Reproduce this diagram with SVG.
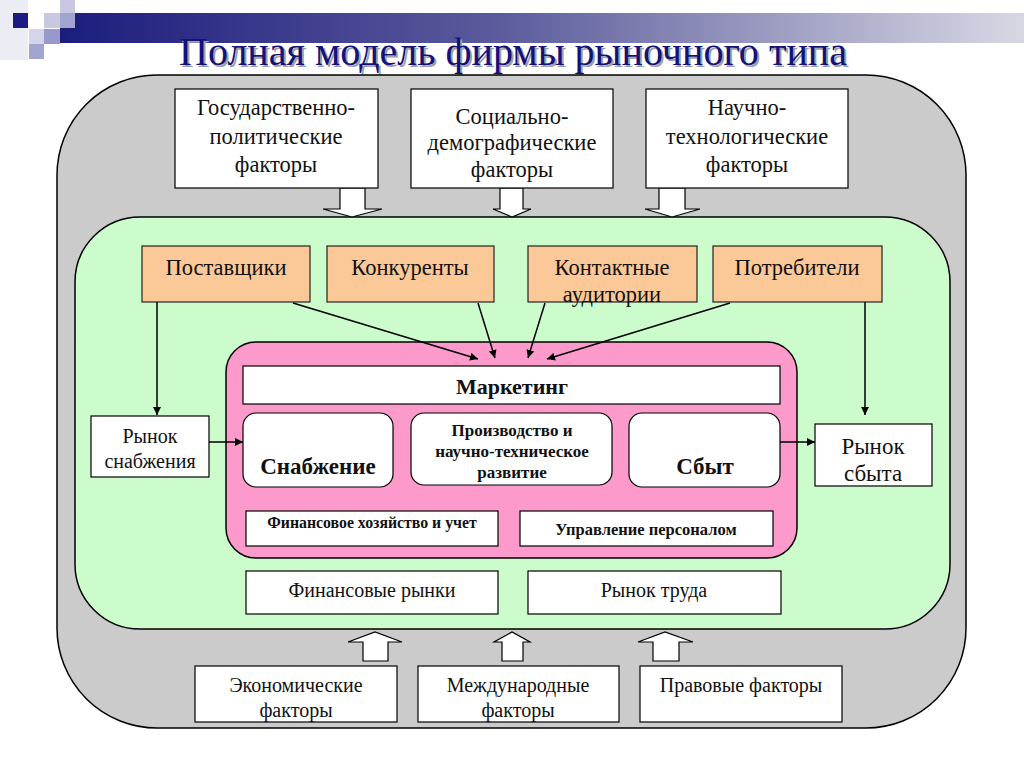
<svg xmlns="http://www.w3.org/2000/svg" width="1024" height="767" viewBox="0 0 1024 767">
<defs>
<linearGradient id="bar" x1="0" y1="0" x2="1" y2="0">
<stop offset="0" stop-color="#1c1c7e"/>
<stop offset="0.45" stop-color="#5a5a9c"/>
<stop offset="1" stop-color="#d8d8e4"/>
</linearGradient>
<marker id="ah" viewBox="0 0 10 10" refX="10" refY="5" markerWidth="8" markerHeight="8" markerUnits="userSpaceOnUse" orient="auto">
<path d="M0,0 L10,5 L0,10 z" fill="#000"/>
</marker>
<style>
.box{fill:#fff;stroke:#000;stroke-width:1.2}
.org{fill:#fbc898;stroke:#222;stroke-width:1.2}
.rbox{fill:#fff;stroke:#000;stroke-width:1.2}
.t{font-size:22.5px;fill:#111;text-anchor:middle}
.s{font-size:20px;fill:#111;text-anchor:middle}
.tb{font-weight:bold;fill:#111;text-anchor:middle}
.conn line{stroke:#000;stroke-width:1.5;marker-end:url(#ah)}
.barrow{fill:#fff;stroke:#000;stroke-width:1.2}
</style>
</defs>
<rect width="1024" height="767" fill="#fff"/>
<g font-family="Liberation Serif, Times New Roman, serif">
<!-- header decoration -->
<g id="header">
<rect x="60" y="13" width="964" height="30" fill="url(#bar)"/>
<rect x="0" y="0" width="28" height="60" fill="#ececf4"/>
<rect x="13" y="13" width="15" height="15" fill="#1a1a80"/>
<rect x="44" y="13" width="16" height="15" fill="#c8c8e2"/>
<rect x="60" y="0" width="15" height="13" fill="#c8c8e2"/>
<rect x="60" y="13" width="15" height="15" fill="#a4a4d0"/>
<rect x="29" y="29" width="15" height="15" fill="#d4d4ea"/>
<rect x="44" y="29" width="16" height="15" fill="#9898cc"/>
<rect x="29" y="44" width="15" height="15" fill="#a4a4d0"/>
<text x="515" y="67" font-size="39" fill="#a0a0a8" text-anchor="middle" textLength="668" lengthAdjust="spacingAndGlyphs">Полная модель фирмы рыночного типа</text>
<text x="513" y="65" font-size="39" fill="#12127a" text-anchor="middle" textLength="668" lengthAdjust="spacingAndGlyphs">Полная модель фирмы рыночного типа</text>
</g>
<!-- containers -->
<g id="environment">
<rect x="57" y="75" width="909" height="653" rx="100" ry="100" fill="#cbcbcb" stroke="#000" stroke-width="1.5"/>
</g>
<g id="microenvironment">
<rect x="75" y="217" width="875" height="412" rx="65" ry="65" fill="#ccfccc" stroke="#000" stroke-width="1.5"/>
</g>
<g id="firm">
<rect x="226" y="342" width="571" height="216" rx="30" ry="30" fill="#fb9acb" stroke="#000" stroke-width="1.5"/>
</g>
<!-- block arrows -->
<g id="block-arrows">
<path class="barrow" d="M340,188 L365,188 L365,209 L382,209 L352,217 L323,209 L340,209 Z"/>
<path class="barrow" d="M500,188 L523,188 L523,209 L531,209 L512,217 L493,209 L500,209 Z"/>
<path class="barrow" d="M659,188 L685,188 L685,209 L700,209 L672,217 L645,209 L659,209 Z"/>
<path class="barrow" d="M363,661 L388,661 L388,642 L402,642 L375,632 L348,642 L363,642 Z"/>
<path class="barrow" d="M502,661 L523,661 L523,642 L530,642 L512,632 L494,642 L502,642 Z"/>
<path class="barrow" d="M653,661 L679,661 L679,642 L693,642 L665,632 L638,642 L653,642 Z"/>
</g>
<!-- top factor boxes -->
<g id="gos">
<rect class="box" x="175" y="89" width="203" height="99"/>
<text class="t" x="276" y="115">Государственно-</text>
<text class="t" x="276" y="144">политические</text>
<text class="t" x="276" y="172">факторы</text>
</g>
<g id="soc">
<rect class="box" x="411" y="89" width="202" height="99"/>
<text class="t" x="512" y="124">Социально-</text>
<text class="t" x="512" y="150">демографические</text>
<text class="t" x="512" y="177">факторы</text>
</g>
<g id="nauch">
<rect class="box" x="646" y="89" width="202" height="99"/>
<text class="t" x="747" y="115">Научно-</text>
<text class="t" x="747" y="144">технологические</text>
<text class="t" x="747" y="172">факторы</text>
</g>
<!-- orange boxes -->
<g id="postav">
<rect class="org" x="142" y="246" width="168" height="56"/>
<text class="t" x="226" y="275">Поставщики</text>
</g>
<g id="konk">
<rect class="org" x="327" y="246" width="167" height="56"/>
<text class="t" x="410" y="275">Конкуренты</text>
</g>
<g id="kontakt">
<rect class="org" x="528" y="246" width="169" height="56"/>
<text class="t" x="612" y="275">Контактные</text>
<text class="t" x="612" y="302">аудитории</text>
</g>
<g id="potreb">
<rect class="org" x="713" y="246" width="169" height="56"/>
<text class="t" x="797" y="275">Потребители</text>
</g>
<!-- markets -->
<g id="rynok-snab">
<rect class="box" x="91" y="416" width="118" height="61"/>
<text class="s" x="150" y="443">Рынок</text>
<text class="s" x="150" y="468">снабжения</text>
</g>
<g id="rynok-sbyta">
<rect class="box" x="815" y="424" width="117" height="62"/>
<text class="t" x="873" y="454" style="font-size:23px">Рынок</text>
<text class="t" x="873" y="481" style="font-size:23px">сбыта</text>
</g>
<!-- firm internals -->
<g id="marketing">
<rect class="box" x="243" y="366" width="537" height="38"/>
<text class="tb" x="512" y="394" font-size="22">Маркетинг</text>
</g>
<g id="snab">
<rect class="rbox" x="243" y="413" width="150" height="74" rx="13"/>
<text class="tb" x="318" y="474" font-size="23">Снабжение</text>
</g>
<g id="proizv">
<rect class="rbox" x="411" y="413" width="201" height="72" rx="13"/>
<text class="tb" x="512" y="436" font-size="17">Производство и</text>
<text class="tb" x="512" y="457" font-size="17">научно-техническое</text>
<text class="tb" x="512" y="478" font-size="17">развитие</text>
</g>
<g id="sbyt">
<rect class="rbox" x="629" y="413" width="151" height="74" rx="13"/>
<text class="tb" x="705" y="474" font-size="23">Сбыт</text>
</g>
<g id="finhoz">
<rect class="box" x="246" y="511" width="252" height="35"/>
<text class="tb" x="372" y="528" font-size="15.8">Финансовое хозяйство и учет</text>
</g>
<g id="upr">
<rect class="box" x="520" y="511" width="253" height="35"/>
<text class="tb" x="646" y="535" font-size="16.5">Управление персоналом</text>
</g>
<g id="finrynki">
<rect class="box" x="246" y="571" width="252" height="43"/>
<text class="s" x="372" y="597">Финансовые рынки</text>
</g>
<g id="trud">
<rect class="box" x="528" y="571" width="253" height="43"/>
<text class="s" x="654" y="597">Рынок труда</text>
</g>
<!-- bottom factors -->
<g id="econ">
<rect class="box" x="195" y="666" width="202" height="56"/>
<text class="s" x="296" y="692">Экономические</text>
<text class="s" x="296" y="717">факторы</text>
</g>
<g id="mezhd">
<rect class="box" x="418" y="666" width="201" height="56"/>
<text class="s" x="518" y="692">Международные</text>
<text class="s" x="518" y="717">факторы</text>
</g>
<g id="prav">
<rect class="box" x="640" y="666" width="202" height="56"/>
<text class="s" x="741" y="692">Правовые факторы</text>
</g>
<!-- connectors -->
<g id="connectors" class="conn">
<line x1="157" y1="302" x2="157" y2="415"/>
<line x1="293" y1="303" x2="478" y2="359"/>
<line x1="478" y1="303" x2="495" y2="358"/>
<line x1="545" y1="303" x2="528" y2="358"/>
<line x1="730" y1="303" x2="547" y2="359"/>
<line x1="865" y1="302" x2="865" y2="415"/>
<line x1="209" y1="442" x2="243" y2="442"/>
<line x1="780" y1="442" x2="815" y2="442"/>
</g>
</g>
</svg>
